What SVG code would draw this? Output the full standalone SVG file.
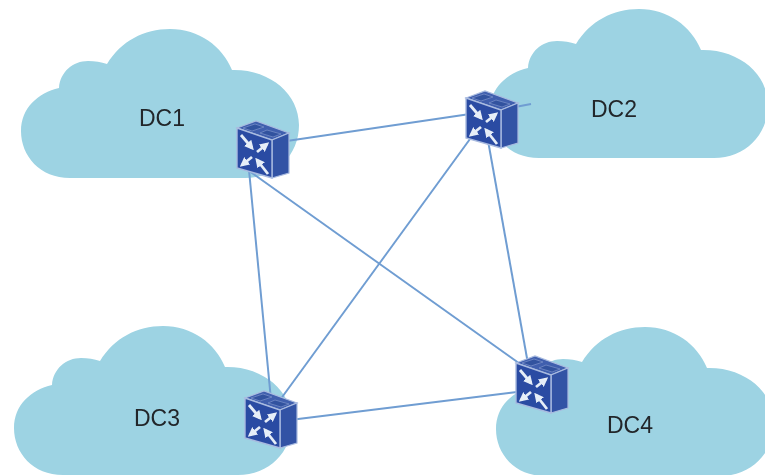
<svg xmlns="http://www.w3.org/2000/svg" width="765" height="475" viewBox="0 0 765 475">
<style>
.cloud{fill:#9dd3e3}
.lbl{font-family:"Liberation Sans",Arial,sans-serif;font-size:23px;fill:#22272b;text-anchor:middle}
.link{stroke:#6f9dd2;stroke-width:2;fill:none}
.front{fill:#2c4ca3;stroke:#a9bbe0;stroke-width:1.4}
.top{fill:#3f5fae;stroke:#a9bbe0;stroke-width:1.2}
.side{fill:#3353a5;stroke:#a9bbe0;stroke-width:1.2}
.arr{stroke:#e6eef8;stroke-width:2.8;fill:none;marker-end:url(#ah)}
</style>
<defs>
<marker id="ah" markerWidth="3.4" markerHeight="3.4" refX="2.4" refY="1.7" orient="auto"><path d="M0 0L3.4 1.7L0 3.4Z" fill="#e6eef8"/></marker>
<filter id="soft" x="-5%" y="-5%" width="110%" height="110%"><feGaussianBlur stdDeviation="0.6"/></filter>
<path id="cl" d="M70 178C40 178 21 156 21 131C21 108 38 93 59 88C60 72 73 61 88 61C95 61 101 62 107 64C121 41 144 29 170 29C199 29 222 46 232 70C270 69 299 94 299 125C299 155 276 178 245 178Z"/>
<g id="sw">
<path class="top" d="M0 0L19-7L52 5L35 12Z"/>
<path class="side" d="M35 12L52 5V45L35 50Z"/>
<path class="front" d="M0 0L35 12V50L0 40Z"/>
<path d="M6 0L18-4L27-1L15 3Z M30 2L44 6L36 9L23 5Z" fill="#33529f" stroke="#7d94cb" stroke-width=".7"/>
<path class="arr" d="M4 7L15 20"/>
<path class="arr" d="M20 24L30 16"/>
<path class="arr" d="M15 29L5 37"/>
<path class="arr" d="M31 46L20 32"/>
</g>
</defs>
<g filter="url(#soft)">
<g id="dc1"><use href="#cl" class="cloud"/><text class="lbl" x="162" y="126">DC1</text></g>
<g id="dc2"><use href="#cl" class="cloud" x="469" y="-20"/><text class="lbl" x="614" y="117">DC2</text></g>
<g id="dc3"><use href="#cl" class="cloud" x="-7" y="297"/><text class="lbl" x="157" y="426">DC3</text></g>
<g id="dc4"><use href="#cl" class="cloud" x="475" y="298"/><text class="lbl" x="630" y="433">DC4</text></g>
<g id="connectors">
<path class="link" d="M280 142L470 114"/>
<path class="link" d="M249 170L271 400"/>
<path class="link" d="M245 168L530 371"/>
<path class="link" d="M478 128L280 400"/>
<path class="link" d="M487 135L530 375"/>
<path class="link" d="M290 420L525 391"/>
<path class="link" d="M510 108L531 104"/>
</g>
<g id="switch1"><use href="#sw" x="237" y="128"/></g>
<g id="switch2"><use href="#sw" x="466" y="98"/></g>
<g id="switch3"><use href="#sw" x="245" y="398"/></g>
<g id="switch4"><use href="#sw" x="516" y="363"/></g>
</g>
</svg>
